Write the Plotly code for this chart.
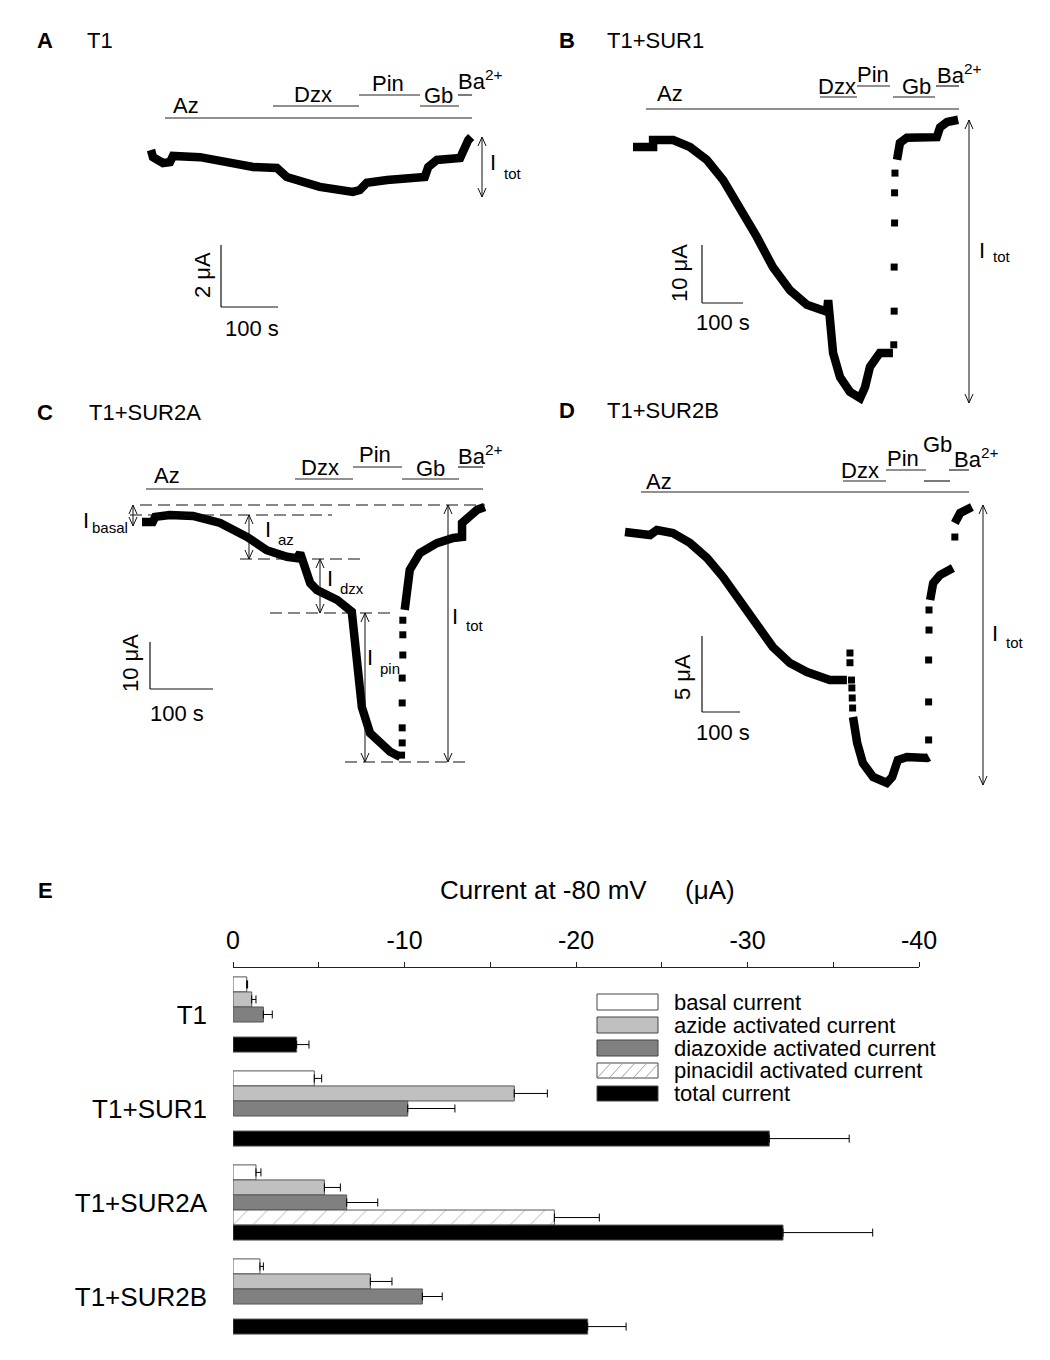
import plotly.graph_objects as go

W, H = 1050, 1360
FONT = "Liberation Sans, Arial, Helvetica, sans-serif"

# ---------------- DATA ----------------
# Panel A  T1 : time (s), current (uA, relative to start)
tA = [0, 3.4, 20.7, 32.8, 37.9, 84.5, 131, 176, 217, 234, 291, 348, 360, 372, 407, 464, 472, 478, 493, 533, 538, 547, 552]
iA = [0, -0.23, -0.42, -0.39, -0.19, -0.23, -0.39, -0.55, -0.58, -0.87, -1.19, -1.35, -1.29, -1.06, -0.97, -0.94, -0.87, -0.55, -0.32, -0.26, 0, 0.32, 0.42]

# Panel B  T1+SUR1
tB = [0, 49, 49, 98, 139, 180, 220, 261, 302, 341, 383, 424, 473, 476, 478, 480, 488, 505, 529, 554, 566, 578, 602, 634,
      None, 644, 651, 668, 741, 749, 766, 793]
iB = [0, 0, 1.2, 1.2, 0, -2.2, -5.7, -10.3, -15.5, -20.7, -24.7, -27.2, -28.4, -26.4, -28.6, -31.6, -35.5, -39.7, -42.2, -43.3, -41.4, -37.9, -35.5, -35.5,
      None, -2.2, 0.7, 1.6, 1.7, 3.4, 4.3, 4.7]
tB_dots = [636, 637, 637, 638, 638, 639]
iB_dots = [-34.1, -28.3, -20.7, -13.1, -7.9, -4.5]

# Panel C  T1+SUR2A
tC = [0, 17, 21, 44, 81, 124, 167, 198, 230, 246, 251, 256, 267, 278, 310, 333, 335, 341, 349, 362, 378, 394, 410,
      None, 417, 421, 425, 441, 468, 494, 508, 508, 516, 532, 544]
iC = [0, 0, 1.1, 1.5, 1.3, -0.2, -3.2, -6.0, -7.4, -7.7, -6.6, -8.7, -13.0, -14.5, -16.6, -19.1, -21.5, -28.7, -39.4, -44.9, -47.0, -48.9, -50.0,
      None, -18.7, -14.5, -10.2, -6.6, -4.5, -3.4, -3.2, -0.2, 0.9, 2.6, 3.2]
tC_dots = [412, 413, 413, 413, 413, 414, 414, 414]
iC_dots = [-49.6, -47.0, -43.8, -38.5, -33.2, -28.3, -24.0, -20.9]

# Panel D  T1+SUR2B
tD = [0, 39, 66, 84, 126, 171, 216, 258, 303, 347, 389, 434, 479, 539, 584,
      None, 600, 611, 626, 653, 689, 703, 718, 742, 795, 800,
      None, 803, 811, 829, 863,
      None, 868, 882, 913]
iD = [0, -0.07, -0.2, 0.13, -0.07, -0.72, -1.71, -2.96, -4.47, -5.99, -7.57, -8.62, -9.21, -9.74, -9.74,
      None, -12.17, -13.88, -15.2, -16.12, -16.51, -16.12, -15.0, -14.8, -14.87, -14.8,
      None, -4.47, -3.36, -2.83, -2.37,
      None, 0.59, 1.25, 1.64]
tD_dots = [592, 592, 596, 597, 598, 599, 799, 799, 799, 800, 800, 868]
iD_dots = [-7.96, -8.6, -9.74, -10.26, -10.92, -11.58, -13.68, -11.18, -8.42, -6.45, -5.13, -0.33]

# Panel E  summary bars (uA at -80 mV)
groups = ["T1", "T1+SUR1", "T1+SUR2A", "T1+SUR2B"]
basal = [-0.8, -4.74, -1.34, -1.57]
basal_err = [0.05, 0.43, 0.29, 0.2]
azide = [-1.09, -16.4, -5.33, -8.01]
azide_err = [0.25, 1.93, 0.93, 1.26]
diazoxide = [-1.77, -10.19, -6.63, -11.04]
diazoxide_err = [0.52, 2.75, 1.81, 1.16]
pinacidil = [None, None, -18.74, None]
pinacidil_err = [0, 0, 2.62, 0]
total = [-3.71, -31.27, -32.07, -20.68]
total_err = [0.72, 4.66, 5.23, 2.24]
series_names = ["basal current", "azide activated current", "diazoxide activated current",
                "pinacidil activated current", "total current"]
x_ticks = [0, -10, -20, -30, -40]
x_ticktext = ["0", "-10", "-20", "-30", "-40"]

# ---------------- helpers ----------------
TS = 22  # panel text size

def pxx(x):
    return x / W

def pyy(y):
    return 1 - y / H

shapes = []
anns = []

def txt(s, x, y, size=TS, xanchor="center", yanchor="middle", bold=False, angle=0):
    if bold:
        s = "<b>" + s + "</b>"
    anns.append(dict(text=s, x=pxx(x), y=pyy(y), xref="paper", yref="paper", showarrow=False,
                     font=dict(size=size, color="black", family=FONT), xanchor=xanchor,
                     yanchor=yanchor, textangle=angle))

def seg(x0, y0, x1, y1, width=1.2, color="#222", dash=None):
    ln = dict(color=color, width=width)
    if dash:
        ln["dash"] = dash
    shapes.append(dict(type="line", xref="paper", yref="paper", x0=pxx(x0), y0=pyy(y0),
                       x1=pxx(x1), y1=pyy(y1), line=ln))

def darrow(x, y0, y1):
    seg(x, y0, x, y1, width=1, color="#111")
    for (yt, d) in ((y0, 1), (y1, -1)):
        p = "M {},{} L {},{} L {},{}".format(pxx(x - 4), pyy(yt + 9 * d), pxx(x), pyy(yt),
                                                pxx(x + 4), pyy(yt + 9 * d))
        shapes.append(dict(type="path", xref="paper", yref="paper", path=p,
                           line=dict(color="#111", width=1)))

def sub_label(x, y, main, sub, subdx, subdy, subsize=15):
    txt(main, x, y, TS)
    txt(sub, x + subdx, y + subdy, subsize, xanchor="left")

def drugs(items):
    for (x0, x1, y) in items:
        seg(x0, y, x1, y, width=1.2)

def scalebar(x, ytop, ybot, xr, vlabel, vpos, hpos):
    seg(x, ytop, x, ybot, width=1.2, color="#111")
    seg(x, ybot, xr, ybot, width=1.2, color="#111")
    txt(vlabel, vpos[0], vpos[1], TS, angle=-90)
    txt("100 s", hpos[0], hpos[1], TS)

fig = go.Figure()

layout_axes = {}

def panel(idx, px0, px1, py0, py1, ox, oy, sx, sy, t, i, td, idd):
    xa = "x" if idx == 1 else "x%d" % idx
    ya = "y" if idx == 1 else "y%d" % idx
    fig.add_trace(go.Scatter(x=t, y=i, mode="lines", line=dict(color="black", width=8.5),
                             xaxis=xa, yaxis=ya, showlegend=False, hoverinfo="skip"))
    if td:
        fig.add_trace(go.Scatter(x=td, y=idd, mode="markers",
                                 marker=dict(symbol="square", size=7, color="black"),
                                 xaxis=xa, yaxis=ya, showlegend=False, hoverinfo="skip"))
    kx = "xaxis" if idx == 1 else "xaxis%d" % idx
    ky = "yaxis" if idx == 1 else "yaxis%d" % idx
    layout_axes[kx] = dict(domain=[px0 / W, px1 / W], range=[(px0 - ox) / sx, (px1 - ox) / sx],
                           visible=False, anchor=ya, automargin=False)
    layout_axes[ky] = dict(domain=[1 - py1 / H, 1 - py0 / H], range=[(oy - py1) / sy, (oy - py0) / sy],
                           visible=False, anchor=xa, automargin=False)

panel(1, 130, 540, 60, 350, 151, 150, 0.58, 31.0, tA, iA, None, None)
panel(2, 600, 1040, 60, 420, 633, 147, 0.41, 5.8, tB, iB, tB_dots, iB_dots)
panel(3, 60, 540, 430, 790, 142, 522, 0.63, 4.7, tC, iC, tC_dots, iC_dots)
panel(4, 600, 1040, 430, 800, 625, 532, 0.38, 15.2, tD, iD, tD_dots, iD_dots)

# ---------- Panel A decorations ----------
txt("A", 45, 40, bold=True)
txt("T1", 100, 40)
drugs([(165, 472, 118), (273, 359, 106), (359, 420, 95), (420, 459, 106), (458, 472, 95)])
txt("Az", 186, 106)
txt("Dzx", 313, 95)
txt("Pin", 388, 83)
txt("Gb", 438, 96)
txt("Ba<sup>2+</sup>", 456, 80, xanchor="left")
darrow(482, 137, 197)
sub_label(493, 162, "I", "tot", 9, 11)
scalebar(221, 245, 307, 278, "2 μA", (203, 275), (252, 328))

# ---------- Panel B ----------
txt("B", 567, 40, bold=True)
txt("T1+SUR1", 655, 40)
drugs([(646, 959, 109), (820, 857, 97), (857, 890, 86), (893, 935, 97), (936, 959, 86)])
txt("Az", 670, 94)
txt("Dzx", 837, 86)
txt("Pin", 873, 74)
txt("Gb", 916, 86)
txt("Ba<sup>2+</sup>", 935, 74, xanchor="left")
darrow(969, 120, 403)
sub_label(982, 250, "I", "tot", 9, 6)
scalebar(702, 245, 303, 743, "10 μA", (680, 273), (723, 322))

# ---------- Panel C ----------
txt("C", 45, 412, bold=True)
txt("T1+SUR2A", 145, 412)
drugs([(146, 483, 489), (295, 353, 479), (353, 402, 467), (402, 459, 479), (458, 483, 467)])
txt("Az", 167, 475)
txt("Dzx", 320, 467)
txt("Pin", 375, 455)
txt("Gb", 430, 468)
txt("Ba<sup>2+</sup>", 456, 455, xanchor="left")
for (x0, x1, y) in [(140, 485, 505), (130, 332, 515), (240, 360, 559), (270, 392, 613), (345, 467, 762)]:
    seg(x0, y, x1, y, width=1.2, color="#111", dash="12px,6px")
darrow(133, 505, 526)
darrow(249, 515, 559)
darrow(320, 559, 613)
darrow(365, 613, 762)
darrow(448, 505, 762)
sub_label(86, 520, "I", "basal", 4, 8)
sub_label(268, 530, "I", "az", 8, 10)
sub_label(330, 578, "I", "dzx", 8, 10)
sub_label(370, 657, "I", "pin", 8, 11)
sub_label(455, 617, "I", "tot", 9, 9)
scalebar(150, 642, 689, 213, "10 μA", (130, 663), (177, 713))

# ---------- Panel D ----------
txt("D", 567, 410, bold=True)
txt("T1+SUR2B", 663, 410)
drugs([(641, 969, 492), (843, 886, 481), (886, 926, 470), (924, 950, 481), (949, 969, 470)])
txt("Az", 659, 481)
txt("Dzx", 860, 470)
txt("Pin", 903, 458)
txt("Gb", 937, 445)
txt("Ba<sup>2+</sup>", 952, 458, xanchor="left")
darrow(983, 505, 785)
sub_label(995, 633, "I", "tot", 9, 9)
scalebar(702, 636, 712, 740, "5 μA", (682, 677), (723, 732))

# ---------- Panel E ----------
txt("E", 45, 890, bold=True)
txt("Current at -80 mV", 438, 890, 26, xanchor="left")
txt("(μA)", 683, 890, 26, xanchor="left")

fills = ["white", "#c0c0c0", "#808080", "white", "black"]
vals = [basal, azide, diazoxide, pinacidil, total]
errs = [basal_err, azide_err, diazoxide_err, pinacidil_err, total_err]
for k in range(5):
    mk = dict(color=fills[k], line=dict(color="#555", width=1))
    if k == 3:
        mk["pattern"] = dict(shape="/", fgcolor="#999", bgcolor="white", size=14, solidity=0.08)
    fig.add_trace(go.Bar(x=vals[k], y=groups, orientation="h", name=series_names[k], marker=mk,
                         error_x=dict(type="data", symmetric=False, array=[0] * 4, arrayminus=errs[k],
                                      color="black", thickness=1, width=4),
                         xaxis="x5", yaxis="y5", showlegend=False, hoverinfo="skip"))

E_x0, E_x1 = 233, 919
E_ytop, E_ybot = 967.5, 1343.5
ppu = (E_x1 - E_x0) / 40.0
layout_axes["xaxis5"] = dict(domain=[E_x0 / W, E_x1 / W], range=[0, -40], side="top", anchor="y5",
                             tickvals=x_ticks, ticktext=x_ticktext, ticks="outside", ticklen=5,
                             tickcolor="#222", showline=True, linecolor="#222", linewidth=1,
                             minor=dict(dtick=5, tick0=0, ticks="outside", ticklen=5, tickcolor="#222"),
                             showgrid=False, zeroline=False, automargin=False,
                             tickfont=dict(size=25, family=FONT, color="black"),
                             ticklabelstandoff=3)
layout_axes["yaxis5"] = dict(domain=[1 - E_ybot / H, 1 - E_ytop / H], type="category",
                             categoryarray=groups, range=[3.5, -0.5], anchor="x5",
                             showline=False, ticks="", showgrid=False, zeroline=False, automargin=False,
                             tickfont=dict(size=26, family=FONT, color="black"), ticklabelstandoff=25)

# group brackets
bx0 = (E_x0 - 218) / ppu
bx1 = (E_x0 - 230) / ppu
for gi in range(4):
    shapes.append(dict(type="path", xref="x5", yref="y5",
                       path="M {},{} L {},{} L {},{} L {},{}".format(bx1, gi - 0.41, bx0, gi - 0.41,
                                                                 bx0, gi + 0.335, bx1, gi + 0.335),
                       line=dict(color="#222", width=1.5)))

# custom legend
leg_y = [(994, 1010), (1017, 1033), (1040, 1056), (1063, 1078), (1086, 1101)]
for k, (y0, y1) in enumerate(leg_y):
    shapes.append(dict(type="rect", xref="paper", yref="paper", x0=pxx(597), x1=pxx(658),
                       y0=pyy(y1), y1=pyy(y0), fillcolor=fills[k], line=dict(color="#444", width=1)))
    txt(series_names[k], 672, (y0 + y1) / 2, 22, xanchor="left")
    if k == 3:
        for hx in [597, 609, 621, 633, 645]:
            xa0, ya0 = hx, y1 - 1
            xa1 = min(hx + 13, 657)
            ya1 = ya0 - (xa1 - xa0)
            seg(xa0 + 1, ya0, xa1, ya1, width=0.8, color="#888")

fig.update_layout(width=W, height=H, margin=dict(l=0, r=0, t=0, b=0, autoexpand=False),
                  paper_bgcolor="white", plot_bgcolor="rgba(0,0,0,0)",
                  barmode="group", bargap=0.2, bargroupgap=0,
                  font=dict(family=FONT, color="black"),
                  shapes=shapes, annotations=anns, showlegend=False, **layout_axes)

fig.write_html("out.html", config={"displayModeBar": False},
               post_script="document.body.style.margin='0';document.body.style.overflow='hidden';")
